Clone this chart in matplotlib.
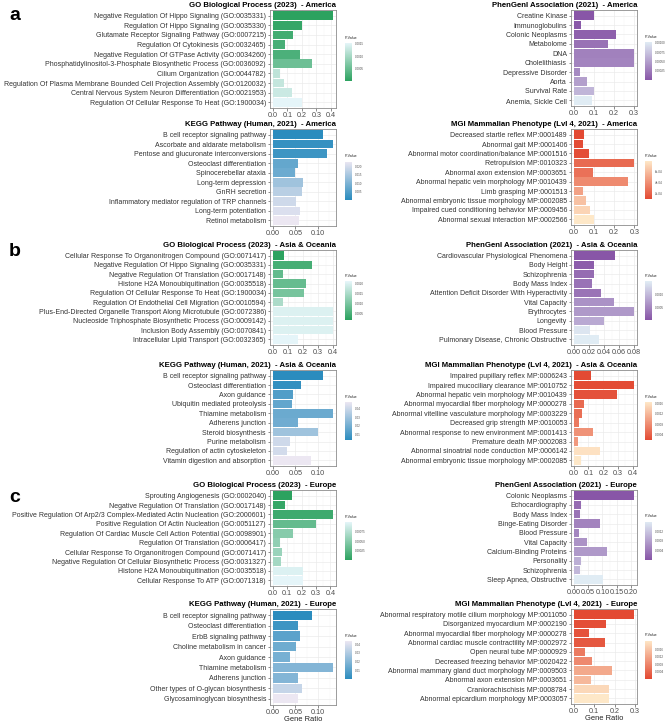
import numpy as np
import matplotlib
matplotlib.use("Agg")
import matplotlib.pyplot as plt
from matplotlib.colors import LinearSegmentedColormap, Normalize
from matplotlib.cm import ScalarMappable

plt.rcParams['font.family'] = ['Liberation Sans', 'DejaVu Sans']

######### data

a_go_terms = ["Negative Regulation Of Hippo Signaling (GO:0035331)",
              "Regulation Of Hippo Signaling (GO:0035330)",
              "Glutamate Receptor Signaling Pathway (GO:0007215)",
              "Regulation Of Cytokinesis (GO:0032465)",
              "Negative Regulation Of GTPase Activity (GO:0034260)",
              "Phosphatidylinositol-3-Phosphate Biosynthetic Process (GO:0036092)",
              "Cilium Organization (GO:0044782)",
              "Regulation Of Plasma Membrane Bounded Cell Projection Assembly (GO:0120032)",
              "Central Nervous System Neuron Differentiation (GO:0021953)",
              "Regulation Of Cellular Response To Heat (GO:1900034)"]
a_go_ratio = [0.415, 0.20, 0.14, 0.085, 0.19, 0.27, 0.047, 0.08, 0.13, 0.20]
a_go_p = [0.00002, 0.00010, 0.00020, 0.00025, 0.00028, 0.00055, 0.00120, 0.00125, 0.00130, 0.00152]

a_kegg_terms = ["B cell receptor signaling pathway", "Ascorbate and aldarate metabolism",
                "Pentose and glucuronate interconversions", "Osteoclast differentiation",
                "Spinocerebellar ataxia", "Long-term depression", "GnRH secretion",
                "Inflammatory mediator regulation of TRP channels", "Long-term potentiation",
                "Retinol metabolism"]
a_kegg_ratio = [0.112, 0.134, 0.12, 0.055, 0.05, 0.067, 0.064, 0.051, 0.061, 0.059]
a_kegg_p = [0.0003, 0.0015, 0.0025, 0.0070, 0.0080, 0.0140, 0.0170, 0.0195, 0.0210, 0.0230]

a_phen_terms = ["Creatine Kinase", "Immunoglobulins", "Colonic Neoplasms", "Metabolome", "DNA",
                "Cholelithiasis", "Depressive Disorder", "Aorta", "Survival Rate", "Anemia, Sickle Cell"]
a_phen_ratio = [0.10, 0.036, 0.213, 0.172, 0.303, 0.303, 0.033, 0.067, 0.10, 0.091]
a_phen_p = [0.00001, 0.00004, 0.00008, 0.00020, 0.00030, 0.00032, 0.00036, 0.00050, 0.00065, 0.00102]

a_mgi_terms = ["Decreased startle reflex MP:0001489", "Abnormal gait MP:0001406",
               "Abnormal motor coordination/balance MP:0001516", "Retropulsion MP:0010323",
               "Abnormal axon extension MP:0003651", "Abnormal hepatic vein morphology MP:0010439",
               "Limb grasping MP:0001513", "Abnormal embryonic tissue morphology MP:0002085",
               "Impaired cued conditioning behavior MP:0009456", "Abnormal sexual interaction MP:0002566"]
a_mgi_ratio = [0.05, 0.045, 0.075, 0.30, 0.095, 0.27, 0.048, 0.06, 0.083, 0.10]
a_mgi_p = [0.00010, 0.00011, 0.00012, 0.00024, 0.00027, 0.00038, 0.00048, 0.00062, 0.00070, 0.00079]

b_go_terms = ["Cellular Response To Organonitrogen Compound (GO:0071417)",
              "Negative Regulation Of Hippo Signaling (GO:0035331)",
              "Negative Regulation Of Translation (GO:0017148)",
              "Histone H2A Monoubiquitination (GO:0035518)",
              "Regulation Of Cellular Response To Heat (GO:1900034)",
              "Regulation Of Endothelial Cell Migration (GO:0010594)",
              "Plus-End-Directed Organelle Transport Along Microtubule (GO:0072386)",
              "Nucleoside Triphosphate Biosynthetic Process (GO:0009142)",
              "Inclusion Body Assembly (GO:0070841)",
              "Intracellular Lipid Transport (GO:0032365)"]
b_go_ratio = [0.077, 0.257, 0.068, 0.22, 0.204, 0.07, 0.40, 0.40, 0.40, 0.17]
b_go_p = [0.00017, 0.00045, 0.00075, 0.00078, 0.00095, 0.0015, 0.0020, 0.0020, 0.0020, 0.0021]

b_kegg_terms = ["B cell receptor signaling pathway", "Osteoclast differentiation", "Axon guidance",
                "Ubiquitin mediated proteolysis", "Thiamine metabolism", "Adherens junction",
                "Steroid biosynthesis", "Purine metabolism", "Regulation of actin cytoskeleton",
                "Vitamin digestion and absorption"]
b_kegg_ratio = [0.111, 0.063, 0.044, 0.043, 0.133, 0.056, 0.10, 0.038, 0.031, 0.083]
b_kegg_p = [0.003, 0.005, 0.012, 0.016, 0.018, 0.019, 0.030, 0.041, 0.042, 0.048]

b_phen_terms = ["Cardiovascular Physiological Phenomena", "Body Height", "Schizophrenia",
                "Body Mass Index", "Attention Deficit Disorder With Hyperactivity", "Vital Capacity",
                "Erythrocytes", "Longevity", "Blood Pressure", "Pulmonary Disease, Chronic Obstructive"]
b_phen_ratio = [0.0546, 0.027, 0.027, 0.024, 0.036, 0.053, 0.08, 0.04, 0.0215, 0.033]
b_phen_p = [0.00005, 0.00012, 0.00026, 0.00033, 0.00034, 0.00063, 0.00070, 0.00085, 0.00143, 0.0015]

b_mgi_terms = ["Impaired pupillary reflex MP:0006243", "Impaired mucociliary clearance MP:0010752",
               "Abnormal hepatic vein morphology MP:0010439",
               "Abnormal myocardial fiber morphology MP:0000278",
               "Abnormal vitelline vasculature morphology MP:0003229",
               "Decreased grip strength MP:0010053",
               "Abnormal response to new environment MP:0001413", "Premature death MP:0002083",
               "Abnormal sinoatrial node conduction MP:0006142",
               "Abnormal embryonic tissue morphology MP:0002085"]
b_mgi_ratio = [0.12, 0.41, 0.29, 0.068, 0.057, 0.035, 0.13, 0.026, 0.176, 0.048]
b_mgi_p = [0.00017, 0.00019, 0.00025, 0.00047, 0.00052, 0.00062, 0.00085, 0.00092, 0.0016, 0.00167]

c_go_terms = ["Sprouting Angiogenesis (GO:0002040)",
              "Negative Regulation Of Translation (GO:0017148)",
              "Positive Regulation Of Arp2/3 Complex-Mediated Actin Nucleation (GO:2000601)",
              "Positive Regulation Of Actin Nucleation (GO:0051127)",
              "Regulation Of Cardiac Muscle Cell Action Potential (GO:0098901)",
              "Regulation Of Translation (GO:0006417)",
              "Cellular Response To Organonitrogen Compound (GO:0071417)",
              "Negative Regulation Of Cellular Biosynthetic Process (GO:0031327)",
              "Histone H2A Monoubiquitination (GO:0035518)",
              "Cellular Response To ATP (GO:0071318)"]
c_go_ratio = [0.133, 0.083, 0.42, 0.30, 0.14, 0.048, 0.064, 0.057, 0.21, 0.21]
c_go_p = [0.00001, 0.00006, 0.00011, 0.00031, 0.00050, 0.00055, 0.00060, 0.00065, 0.00095, 0.00100]

c_kegg_terms = ["B cell receptor signaling pathway", "Osteoclast differentiation",
                "ErbB signaling pathway", "Choline metabolism in cancer", "Axon guidance",
                "Thiamine metabolism", "Adherens junction", "Other types of O-glycan biosynthesis",
                "Glycosaminoglycan biosynthesis"]
c_kegg_ratio = [0.086, 0.055, 0.059, 0.051, 0.038, 0.133, 0.056, 0.064, 0.056]
c_kegg_p = [0.0003, 0.0045, 0.011, 0.0155, 0.0175, 0.020, 0.020, 0.035, 0.0437]

c_phen_terms = ["Colonic Neoplasms", "Echocardiography", "Body Mass Index", "Binge-Eating Disorder",
                "Blood Pressure", "Vital Capacity", "Calcium-Binding Proteins", "Personality",
                "Schizophrenia", "Sleep Apnea, Obstructive"]
c_phen_ratio = [0.211, 0.025, 0.0216, 0.093, 0.019, 0.047, 0.116, 0.026, 0.0216, 0.102]
c_phen_p = [0.00001, 0.00025, 0.00033, 0.00049, 0.00052, 0.00065, 0.00072, 0.00096, 0.00104, 0.0016]

c_mgi_terms = ["Abnormal respiratory motile cilium morphology MP:0011050",
               "Disorganized myocardium MP:0002190",
               "Abnormal myocardial fiber morphology MP:0000278",
               "Abnormal cardiac muscle contractility MP:0002972",
               "Open neural tube MP:0000929", "Decreased freezing behavior MP:0020422",
               "Abnormal mammary gland duct morphology MP:0009503",
               "Abnormal axon extension MP:0003651", "Craniorachischisis MP:0008784",
               "Abnormal epicardium morphology MP:0003057"]
c_mgi_ratio = [0.296, 0.158, 0.073, 0.153, 0.056, 0.089, 0.185, 0.084, 0.174, 0.174]
c_mgi_p = [0.00004, 0.00010, 0.00016, 0.00022, 0.00065, 0.00085, 0.00125, 0.00145, 0.00185, 0.00206]

######### colours

go_cmap = LinearSegmentedColormap.from_list("go", ["#2ca25f", "#e5f5f9"])
kegg_cmap = LinearSegmentedColormap.from_list("kegg", ["#2b8cbe", "#ece7f2"])
phen_cmap = LinearSegmentedColormap.from_list("phen", ["#8856a7", "#e0ecf4"])
mgi_cmap = LinearSegmentedColormap.from_list("mgi", ["#e34a33", "#fee8c8"])

W, H = 669, 723
fig = plt.figure(figsize=(W / 100, H / 100), dpi=100)


def box(x0, y0, x1, y1):
    return [x0 / W, 1 - y1 / H, (x1 - x0) / W, (y1 - y0) / H]


def panel(x0, x1, y0, y1, cbx, title, terms, ratio, pval, cmap,
          xticks, xfmt, cbticks, cbfmt, xlabel=False):
    ax = fig.add_axes(box(x0, y0, x1, y1))
    norm = Normalize(min(pval), max(pval))
    y = np.arange(len(terms))
    ax.barh(y, ratio, height=0.9, color=cmap(norm(pval)), zorder=3)
    top = max(ratio)
    ax.set_xlim(-0.045 * top, 1.045 * top)
    ax.set_ylim(len(terms) - 0.4, -0.6)
    ax.set_yticks(y)
    ax.set_yticklabels(terms, fontsize=5, color="#333333")
    ax.set_xticks(xticks)
    ax.set_xticklabels([xfmt % t for t in xticks], fontsize=5.2, color="#4d4d4d")
    step = xticks[1] - xticks[0]
    ax.set_xticks(np.arange(xticks[0] + step / 2, top * 1.05, step), minor=True)
    ax.tick_params(which="major", length=1.8, width=0.4, color="#333333", pad=1)
    ax.tick_params(axis="x", which="major", pad=0.8)
    ax.tick_params(which="minor", length=0)
    ax.grid(which="major", color="#ebebeb", linewidth=0.5, zorder=0)
    ax.grid(which="minor", axis="x", color="#f3f3f3", linewidth=0.3, zorder=0)
    ax.set_axisbelow(True)
    for s in ax.spines.values():
        s.set_color("#8c8c8c")
        s.set_linewidth(0.6)
    ax.set_title(title, fontsize=5.6, fontweight="bold", loc="right", pad=2)
    if xlabel:
        ax.set_xlabel("Gene Ratio", fontsize=5.4, color="#222222", labelpad=0)

    # colour bar
    yc = (y0 + y1) / 2 + 3
    cax = fig.add_axes(box(cbx, yc - 19, cbx + 7, yc + 19))
    sm = ScalarMappable(norm=norm, cmap=cmap)
    cb = fig.colorbar(sm, cax=cax)
    cb.outline.set_visible(False)
    cb.set_ticks(cbticks)
    cb.set_ticklabels([cbfmt % t for t in cbticks] if isinstance(cbfmt, str) else cbfmt)
    cax.tick_params(labelsize=2.2, length=1.2, width=0.3, color="white",
                    labelcolor="#4d4d4d", pad=1)
    cax.text(0, 1.08, "P-Value", transform=cax.transAxes, fontsize=2.6,
             ha="left", va="bottom", color="#222222")
    return ax


LX0, LX1, LCB = 270, 336, 345
RX0, RX1, RCB = 571, 637, 645

# a
panel(LX0, LX1, 10, 108, LCB, "GO Biological Process (2023)  - America",
      a_go_terms, a_go_ratio, a_go_p, go_cmap, [0, 0.1, 0.2, 0.3, 0.4], "%.1f",
      [0.0005, 0.0010, 0.0015], "%.4f")
panel(LX0, LX1, 129, 226, LCB, "KEGG Pathway (Human, 2021)  - America",
      a_kegg_terms, a_kegg_ratio, a_kegg_p, kegg_cmap, [0, 0.05, 0.10], "%.2f",
      [0.005, 0.010, 0.015, 0.020], "%.3f")
panel(RX0, RX1, 10, 106, RCB, "PhenGenI Association (2021)  - America",
      a_phen_terms, a_phen_ratio, a_phen_p, phen_cmap, [0, 0.1, 0.2, 0.3], "%.1f",
      [0.00025, 0.00050, 0.00075, 0.00100], "%.5f")
panel(RX0, RX1, 129, 225, RCB, "MGI Mammalian Phenotype (Lvl 4, 2021)  - America",
      a_mgi_terms, a_mgi_ratio, a_mgi_p, mgi_cmap, [0, 0.1, 0.2, 0.3], "%.1f",
      [0.0002, 0.0004, 0.0006], ["2e-04", "4e-04", "6e-04"])

# b
panel(LX0, LX1, 250, 345, LCB, "GO Biological Process (2023)  - Asia & Oceania",
      b_go_terms, b_go_ratio, b_go_p, go_cmap, [0, 0.1, 0.2, 0.3, 0.4], "%.1f",
      [0.0005, 0.0010, 0.0015, 0.0020], "%.4f")
panel(LX0, LX1, 370, 466, LCB, "KEGG Pathway (Human, 2021)  - Asia & Oceania",
      b_kegg_terms, b_kegg_ratio, b_kegg_p, kegg_cmap, [0, 0.05, 0.10], "%.2f",
      [0.01, 0.02, 0.03, 0.04], "%.2f")
panel(RX0, RX1, 250, 345, RCB, "PhenGenI Association (2021)  - Asia & Oceania",
      b_phen_terms, b_phen_ratio, b_phen_p, phen_cmap, [0, 0.02, 0.04, 0.06, 0.08], "%.2f",
      [0.0005, 0.0010], "%.4f")
panel(RX0, RX1, 370, 466, RCB, "MGI Mammalian Phenotype (Lvl 4, 2021)  - Asia & Oceania",
      b_mgi_terms, b_mgi_ratio, b_mgi_p, mgi_cmap, [0, 0.1, 0.2, 0.3, 0.4], "%.1f",
      [0.0004, 0.0008, 0.0012, 0.0016], "%.4f")

# c
panel(LX0, LX1, 490, 586, LCB, "GO Biological Process (2023)  - Europe",
      c_go_terms, c_go_ratio, c_go_p, go_cmap, [0, 0.1, 0.2, 0.3, 0.4], "%.1f",
      [0.00025, 0.00050, 0.00075], "%.5f")
panel(LX0, LX1, 609, 705, LCB, "KEGG Pathway (Human, 2021)  - Europe",
      c_kegg_terms, c_kegg_ratio, c_kegg_p, kegg_cmap, [0, 0.05, 0.10], "%.2f",
      [0.01, 0.02, 0.03, 0.04], "%.2f", xlabel=True)
panel(RX0, RX1, 490, 585, RCB, "PhenGenI Association (2021)  - Europe",
      c_phen_terms, c_phen_ratio, c_phen_p, phen_cmap, [0, 0.05, 0.10, 0.15, 0.20], "%.2f",
      [0.0004, 0.0008, 0.0012], "%.4f")
panel(RX0, RX1, 609, 704, RCB, "MGI Mammalian Phenotype (Lvl 4, 2021)  - Europe",
      c_mgi_terms, c_mgi_ratio, c_mgi_p, mgi_cmap, [0, 0.1, 0.2, 0.3], "%.1f",
      [0.0004, 0.0008, 0.0012, 0.0016], "%.4f", xlabel=True)

for letter, yy in [("a", 16), ("b", 252), ("c", 497)]:
    fig.text(15 / W, 1 - yy / H, letter, fontsize=14, fontweight="bold",
             ha="center", va="center")

fig.savefig("out.png", dpi=100)
